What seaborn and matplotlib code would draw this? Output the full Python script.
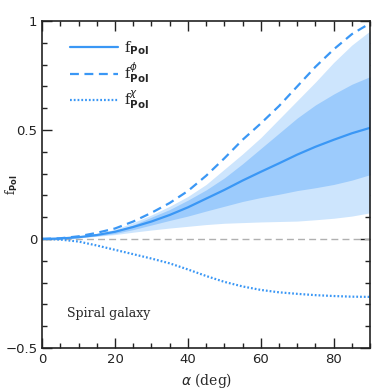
import numpy as np
import matplotlib
matplotlib.use("Agg")
import matplotlib.pyplot as plt
from matplotlib.ticker import MultipleLocator, FuncFormatter
import seaborn as sns

# inclination angle grid (deg)
alpha = [0, 5, 10, 15, 20, 25, 30, 35, 40, 45, 50, 55, 60, 65, 70, 75, 80, 85, 90]

# median f_Pol and its two bands
f_pol = [0, 0.002, 0.008, 0.018, 0.033, 0.055, 0.08, 0.11, 0.145, 0.185, 0.225, 0.268,
         0.308, 0.347, 0.387, 0.423, 0.455, 0.485, 0.51]
inner_lo = [0, 0.002, 0.006, 0.014, 0.025, 0.043, 0.064, 0.085, 0.105, 0.128, 0.15, 0.172,
            0.19, 0.205, 0.222, 0.235, 0.25, 0.27, 0.295]
inner_hi = [0, 0.002, 0.008, 0.02, 0.036, 0.064, 0.1, 0.135, 0.178, 0.225, 0.28, 0.345,
            0.415, 0.485, 0.555, 0.615, 0.665, 0.71, 0.745]
outer_lo = [0, 0.001, 0.005, 0.012, 0.02, 0.031, 0.041, 0.05, 0.058, 0.066, 0.072, 0.075,
            0.078, 0.08, 0.082, 0.088, 0.095, 0.105, 0.12]
outer_hi = [0, 0.003, 0.011, 0.025, 0.044, 0.075, 0.11, 0.15, 0.195, 0.25, 0.32, 0.39,
            0.465, 0.55, 0.635, 0.72, 0.81, 0.89, 0.955]

# angular components
f_phi = [0, 0.003, 0.012, 0.028, 0.048, 0.08, 0.12, 0.165, 0.22, 0.29, 0.37, 0.455,
         0.53, 0.61, 0.70, 0.79, 0.87, 0.94, 0.99]
f_chi = [0, -0.003, -0.012, -0.03, -0.05, -0.07, -0.09, -0.112, -0.14, -0.17, -0.197, -0.218,
         -0.234, -0.245, -0.252, -0.258, -0.262, -0.265, -0.266]

line_color = "#3a97f5"
dark_band = "#9ccbfc"
light_band = "#cde5fd"

sns.set_style("ticks")
plt.rcParams["font.family"] = ["DejaVu Sans"]

fig = plt.figure(figsize=(3.9, 3.9), dpi=100)
ax = fig.add_axes([0.108, 0.108, 0.841, 0.838])

ax.fill_between(alpha, outer_lo, outer_hi, color=light_band, lw=0)
ax.fill_between(alpha, inner_lo, inner_hi, color=dark_band, lw=0)
ax.axhline(0, color="#b0b0b0", lw=1, ls=(0, (5, 3)))

sns.lineplot(x=alpha, y=f_pol, ax=ax, color=line_color, lw=1.6, label=r"f$_{\bf Pol}$")
sns.lineplot(x=alpha, y=f_phi, ax=ax, color=line_color, lw=1.6, ls=(0, (4, 2.5)),
             label=r"f$^{\phi}_{\bf Pol}$")
sns.lineplot(x=alpha, y=f_chi, ax=ax, color=line_color, lw=1.6, ls=(0, (0.8, 0.9)),
             label=r"f$^{\chi}_{\bf Pol}$")

ax.set_xlim(0, 90)
ax.set_ylim(-0.5, 1)
ax.xaxis.set_major_locator(MultipleLocator(20))
ax.xaxis.set_minor_locator(MultipleLocator(5))
ax.yaxis.set_major_locator(MultipleLocator(0.5))
ax.yaxis.set_minor_locator(MultipleLocator(0.1))
ax.yaxis.set_major_formatter(FuncFormatter(lambda v, p: f"{v:g}".replace("-", "\u2212")))
ax.tick_params(which="both", direction="in", top=True, right=True, labelsize=9.5,
               width=1, colors="#222222")
ax.tick_params(which="major", length=7)
ax.tick_params(which="minor", length=3.5)
for s in ax.spines.values():
    s.set_linewidth(1.2)
    s.set_color("#222222")

ax.set_xlabel(r"$\alpha$ (deg)", family="DejaVu Serif", fontsize=10)
ax.set_ylabel(r"f$_{\bf Pol}$", family="DejaVu Serif", fontsize=8.5)
ax.yaxis.set_label_coords(-0.068, 0.5)

ax.text(0.075, 0.095, "Spiral galaxy", transform=ax.transAxes, family="DejaVu Serif", fontsize=9)

ax.legend(loc="upper left", bbox_to_anchor=(0.045, 0.985), frameon=False, handlelength=3.3,
          handletextpad=0.4, labelspacing=0.25, prop={"family": "DejaVu Serif", "size": 10.5})

fig.savefig("out.png", dpi=100)
